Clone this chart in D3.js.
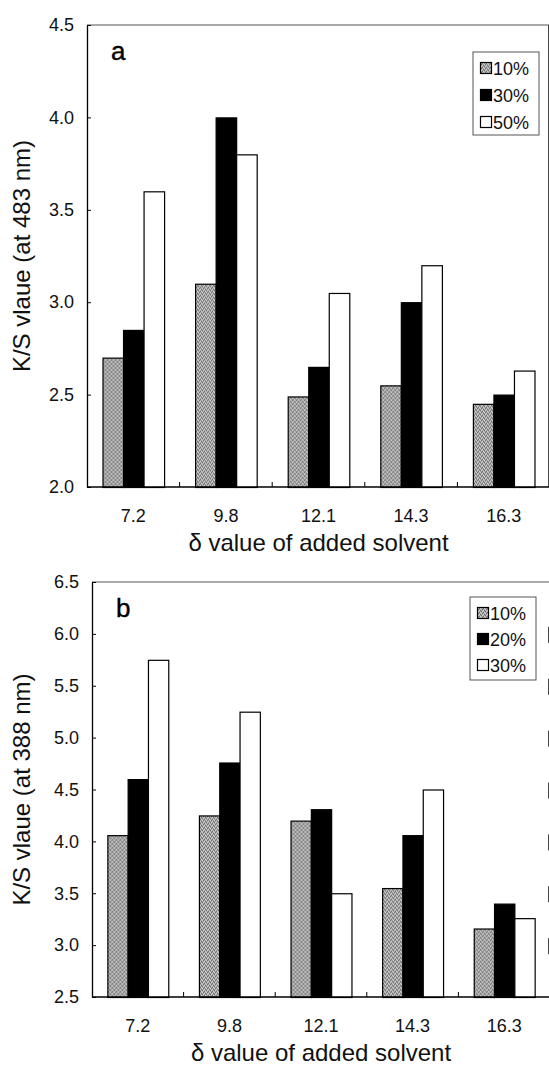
<!DOCTYPE html>
<html>
<head>
<meta charset="utf-8">
<script src="https://cdn.jsdelivr.net/npm/d3@7"></script>
<style>
  body { margin: 0; background: #fff; }
  svg { display: block; font-family: "Liberation Sans", Arial, Helvetica, sans-serif; }
</style>
</head>
<body>
<div id="chart-area"></div>
<script>

// Data
let categories = ["7.2", "9.8", "12.1", "14.3", "16.3"];

// panel a (K/S at 483 nm)
let seriesA = ["10%", "30%", "50%"];
let ksA10 = [2.70, 3.10, 2.49, 2.55, 2.45];
let ksA30 = [2.85, 4.00, 2.65, 3.00, 2.50];
let ksA50 = [3.60, 3.80, 3.05, 3.20, 2.63];
let yTicksA = [2.0, 2.5, 3.0, 3.5, 4.0, 4.5];

// panel b (K/S at 388 nm)
let seriesB = ["10%", "20%", "30%"];
let ksB10 = [4.06, 4.25, 4.20, 3.55, 3.16];
let ksB20 = [4.60, 4.76, 4.31, 4.06, 3.40];
let ksB30 = [5.75, 5.25, 3.50, 4.50, 3.26];
let yTicksB = [2.5, 3.0, 3.5, 4.0, 4.5, 5.0, 5.5, 6.0, 6.5];

let fills = ["url(#stipple)", "#000", "#fff"];

let W = 549, H = 1068;

let svg = d3.select("#chart-area").append("svg")
    .attr("width", W)
    .attr("height", H);

svg.append("rect").attr("width", W).attr("height", H).attr("fill", "#fff");

// halftone grey used for the 10% bars
let pat = svg.append("defs").append("pattern")
    .attr("id", "stipple")
    .attr("width", 4).attr("height", 4)
    .attr("patternUnits", "userSpaceOnUse");
pat.append("rect").attr("width", 4).attr("height", 4).attr("fill", "#a6a6a6");
[[0, 0], [2, 1], [1, 3], [3, 2]].forEach(p => {
    pat.append("rect").attr("x", p[0]).attr("y", p[1]).attr("width", 1).attr("height", 1).attr("fill", "#6a6a6a");
});
[[1, 1], [3, 0], [0, 2], [2, 3]].forEach(p => {
    pat.append("rect").attr("x", p[0]).attr("y", p[1]).attr("width", 1).attr("height", 1).attr("fill", "#d2d2d2");
});

function drawPanel(p) {
    let g = svg.append("g");

    let x0 = d3.scaleBand()
        .domain(categories)
        .range([p.left, p.right])
        .paddingInner(0.335)
        .paddingOuter(0.1675);

    let x1 = d3.scaleBand()
        .domain(p.series)
        .range([0, x0.bandwidth()]);

    let y = d3.scaleLinear()
        .domain([p.ticks[0], p.ticks[p.ticks.length - 1]])
        .range([p.bottom, p.top]);

    // frame top + right
    g.append("line")
        .attr("x1", p.left).attr("x2", W)
        .attr("y1", p.top).attr("y2", p.top)
        .attr("stroke", "#555").attr("stroke-width", 1);

    if (p.dashedRight) {
        g.selectAll(".rseg")
            .data(p.ticks.slice(1, -1))
            .enter().append("line")
            .attr("class", "rseg")
            .attr("x1", p.right - 1.5).attr("x2", p.right - 1.5)
            .attr("y1", d => y(d) - 7).attr("y2", d => y(d) + 9)
            .attr("stroke", "#444").attr("stroke-width", 1);
    } else {
        g.append("line")
            .attr("x1", p.right - 1.5).attr("x2", p.right - 1.5)
            .attr("y1", p.top).attr("y2", p.bottom)
            .attr("stroke", "#444").attr("stroke-width", 1);
    }

    // bars
    let groups = g.selectAll(".grp")
        .data(categories)
        .enter().append("g")
        .attr("class", "grp")
        .attr("transform", d => "translate(" + x0(d) + ",0)");

    groups.selectAll("rect")
        .data((d, i) => p.series.map((s, j) => ({ s: s, j: j, v: p.values[j][i] })))
        .enter().append("rect")
        .attr("x", d => x1(d.s) + 0.5)
        .attr("y", d => y(d.v) + 0.5)
        .attr("width", x1.bandwidth())
        .attr("height", d => y(p.ticks[0]) - y(d.v))
        .attr("fill", d => fills[d.j])
        .attr("stroke", "#000")
        .attr("stroke-width", 1.2);

    // y axis
    let yAxis = d3.axisLeft(y)
        .tickValues(p.ticks)
        .tickFormat(d3.format(".1f"))
        .tickSizeInner(-4)
        .tickSizeOuter(0)
        .tickPadding(13);

    let yg = g.append("g")
        .attr("transform", "translate(" + p.left + ",0)")
        .call(yAxis);
    yg.selectAll("text").attr("font-size", 18).attr("fill", "#111");
    yg.select(".domain").attr("stroke-width", 1.3);

    // x axis
    let xAxis = d3.axisBottom(x0)
        .tickSize(0)
        .tickPadding(22);

    let xg = g.append("g")
        .attr("transform", "translate(0," + p.bottom + ")")
        .call(xAxis);
    xg.selectAll("text").attr("font-size", 18).attr("fill", "#111");
    xg.select(".domain").attr("d", "M" + p.left + ",0H" + W).attr("stroke-width", 1.3);

    // small upward ticks at category boundaries
    g.selectAll(".bnd")
        .data(categories.slice(1))
        .enter().append("line")
        .attr("class", "bnd")
        .attr("x1", d => x0(d) - x0.step() * x0.paddingInner() / 2)
        .attr("x2", d => x0(d) - x0.step() * x0.paddingInner() / 2)
        .attr("y1", p.bottom)
        .attr("y2", p.bottom - 5)
        .attr("stroke", "#000");

    // titles
    g.append("text")
        .attr("x", (p.left + p.right) / 2)
        .attr("y", p.bottom + 64)
        .attr("text-anchor", "middle")
        .attr("font-size", 24)
        .attr("fill", "#111")
        .text("\u03B4 value of added solvent");

    g.append("text")
        .attr("transform", "translate(30," + (p.top + p.bottom) / 2 + ") rotate(-90)")
        .attr("text-anchor", "middle")
        .attr("font-size", 24)
        .attr("fill", "#111")
        .text(p.yTitle);

    g.append("text")
        .attr("x", p.left + 24)
        .attr("y", p.top + 35)
        .attr("font-size", 26)
        .attr("fill", "#000")
        .attr("stroke", "#000")
        .attr("stroke-width", 0.4)
        .text(p.letter);

    // legend
    let lg = g.append("g")
        .attr("transform", "translate(" + p.legendX + "," + p.legendY + ")");

    lg.append("rect")
        .attr("width", 66).attr("height", 83)
        .attr("fill", "#fff")
        .attr("stroke", "#555").attr("stroke-width", 1);

    let items = lg.selectAll(".item")
        .data(p.series)
        .enter().append("g")
        .attr("class", "item")
        .attr("transform", (d, i) => "translate(0," + (16 + i * p.legendStep) + ")");

    items.append("rect")
        .attr("x", 7.5).attr("y", -5.5)
        .attr("width", 11).attr("height", 11)
        .attr("fill", (d, i) => fills[i])
        .attr("stroke", "#000").attr("stroke-width", 1.2);

    items.append("text")
        .attr("x", 20)
        .attr("y", 6.5)
        .attr("font-size", 18)
        .attr("fill", "#111")
        .text(d => d);
}

drawPanel({
    top: 25, bottom: 487, left: 87, right: 550,
    ticks: yTicksA, series: seriesA, values: [ksA10, ksA30, ksA50],
    yTitle: "K/S vlaue (at 483 nm)", letter: "a",
    legendX: 473, legendY: 52, legendStep: 27, dashedRight: false
});

drawPanel({
    top: 582, bottom: 997, left: 92, right: 550,
    ticks: yTicksB, series: seriesB, values: [ksB10, ksB20, ksB30],
    yTitle: "K/S vlaue (at 388 nm)", letter: "b",
    legendX: 470, legendY: 597, legendStep: 26, dashedRight: true
});

</script>
</body>
</html>
